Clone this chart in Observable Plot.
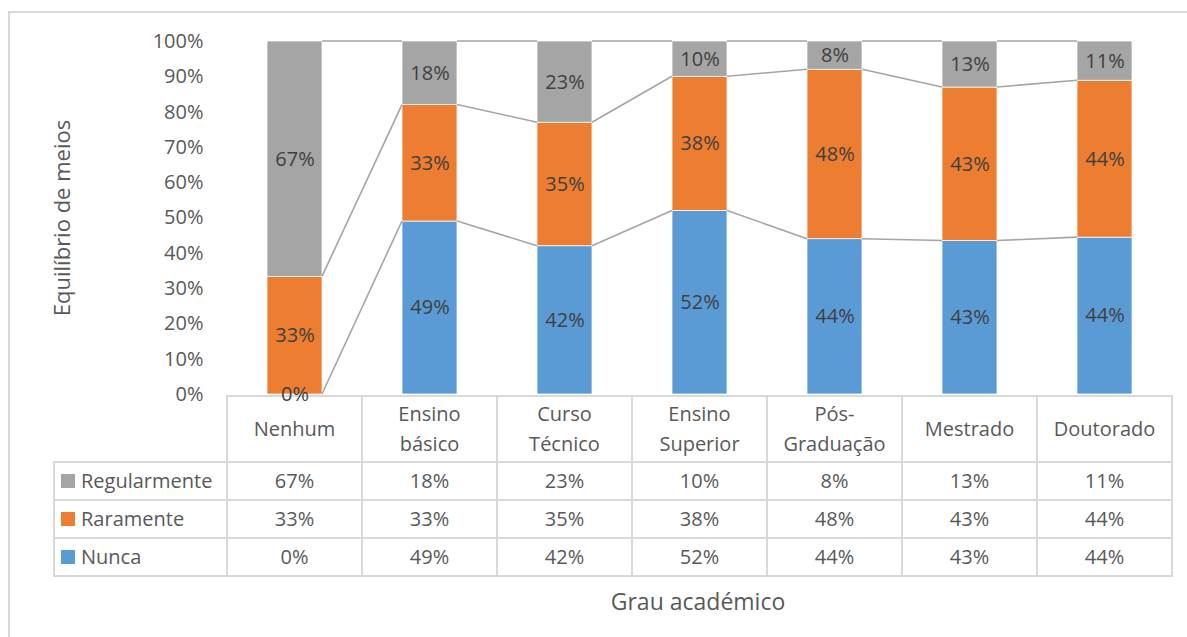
<!DOCTYPE html>
<html>
<head>
<meta charset="utf-8">
<script src="https://cdn.jsdelivr.net/npm/d3@7"></script>
<script src="https://cdn.jsdelivr.net/npm/@observablehq/plot@0.6"></script>
<style>
  body { margin: 0; background: #fff; }
  #wrap { position: relative; width: 1187px; height: 637px; overflow: hidden; font-family: "Open Sans", Lato, sans-serif; color: #595959; background: #fff; }
  #frame { position: absolute; left: 8px; top: 11px; width: 1300px; height: 700px; border: 2px solid #d9d9d9; box-sizing: border-box; }
  #chart { position: absolute; left: 0; top: 0; z-index: 2; }
  #chart svg { overflow: visible; }
  .cell { position: absolute; box-sizing: border-box; border: 2px solid #d9d9d9; display: flex; align-items: center; justify-content: center; text-align: center; font-size: 20px; line-height: 30px; color: #595959; }
  .leg { justify-content: flex-start; padding-left: 6px; }
  .sw { display: inline-block; width: 14px; height: 14px; margin-right: 6px; }
  #ytitle { position: absolute; left: 61px; top: 218px; transform: translate(-50%, -50%) rotate(-90deg); font-size: 22px; white-space: nowrap; }
  #xtitle { position: absolute; left: 698px; top: 601px; transform: translate(-50%, -50%); font-size: 23px; white-space: nowrap; }
</style>
</head>
<body>
<div id="wrap">
  <div id="frame"></div>
  <div id="table"></div>
  <div id="chart"></div>
  <div id="ytitle">Equilíbrio de meios</div>
  <div id="xtitle">Grau académico</div>
</div>
<script>
// ---- data ----
const categories = ["Nenhum", "Ensino básico", "Curso Técnico", "Ensino Superior", "Pós-Graduação", "Mestrado", "Doutorado"];
const categoryLabels = [["Nenhum"], ["Ensino", "básico"], ["Curso", "Técnico"], ["Ensino", "Superior"], ["Pós-", "Graduação"], ["Mestrado"], ["Doutorado"]];
const seriesNames = ["Nunca", "Raramente", "Regularmente"];
const nunca = [0, 49, 42, 52, 44, 43.48, 44.44];
const raramente = [33.33, 33, 35, 38, 48, 43.48, 44.44];
const regularmente = [66.67, 18, 23, 10, 8, 13.04, 11.11];
const seriesColors = ["#5B9BD5", "#ED7D31", "#A5A5A5"];
const yTicks = [0, 10, 20, 30, 40, 50, 60, 70, 80, 90, 100];

const seriesValues = [nunca, raramente, regularmente];
const rows = [];
seriesNames.forEach((s, k) => categories.forEach((c, i) => rows.push({cat: c, series: s, value: seriesValues[k][i]})));
const fmt = v => Math.round(v) + "%";

// cumulative tops for series lines
const cum = seriesValues.map((_, k) => categories.map((c, i) => d3.sum(seriesValues.slice(0, k + 1), a => a[i])));

function seriesLines(index, scales) {
  const x = scales.x, y = scales.y;
  const bw = typeof x.bandwidth === "function" ? x.bandwidth() : 55;
  const g = d3.create("svg:g").attr("stroke", "#A5A5A5").attr("stroke-width", 1.6).attr("fill", "none");
  cum.forEach(level => {
    for (let i = 0; i < categories.length - 1; i++) {
      g.append("line")
        .attr("x1", x(categories[i]) + bw).attr("y1", y(level[i]))
        .attr("x2", x(categories[i + 1])).attr("y2", y(level[i + 1]));
    }
  });
  return g.node();
}

const pInner = 1 - 55 / 135;
const chart = Plot.plot({
  width: 1187,
  height: 400,
  marginTop: 41,
  marginBottom: 6,
  marginLeft: 227,
  marginRight: 15,
  style: {fontFamily: "'Open Sans', Lato, sans-serif", fontSize: "20px", color: "#595959", background: "transparent", overflow: "visible"},
  x: {domain: categories, paddingInner: pInner, paddingOuter: pInner / 2, align: 0.5, axis: null},
  y: {domain: [0, 100], ticks: yTicks, tickFormat: d => d + "%"},
  color: {domain: seriesNames, range: seriesColors},
  marks: [
    Plot.axisY({ticks: yTicks, tickFormat: d => d + "%", tickSize: 0, tickPadding: 24, label: null, fill: "#595959", fontSize: 20}),
    Plot.barY(rows, {x: "cat", y: "value", fill: "series", stroke: "#fff", strokeWidth: 0.75, order: seriesNames, inset: 0}),
    seriesLines,
    Plot.text(rows, Plot.stackY({x: "cat", y: "value", z: "series", order: seriesNames, text: d => fmt(d.value), fill: "#404040", fontSize: 20}))
  ]
});
document.getElementById("chart").appendChild(chart);

// ---- data table below the plot, aligned with x scale ----
const xs = chart.scale("x");
const step = xs.step;
const gap = (step - xs.bandwidth) / 2;
const table = document.getElementById("table");
const headerTop = 396, headerH = 66, rowH = 38;
function cell(left, top, w, h, html, cls) {
  const d = document.createElement("div");
  d.className = "cell" + (cls ? " " + cls : "");
  d.style.left = (left - 1) + "px";
  d.style.top = (top - 1) + "px";
  d.style.width = (w + 2) + "px";
  d.style.height = (h + 2) + "px";
  d.innerHTML = html;
  table.appendChild(d);
}
categories.forEach((c, i) => {
  const left = xs.apply(c) - gap;
  cell(left, headerTop, step, headerH, categoryLabels[i].join("<br>"));
});
const tableOrder = [2, 1, 0];
tableOrder.forEach((k, r) => {
  const top = headerTop + headerH + r * rowH;
  const legLeft = 54;
  const legW = xs.range[0] - legLeft;
  cell(legLeft, top, legW, rowH, `<span class="sw" style="background:${seriesColors[k]}"></span>${seriesNames[k]}`, "leg");
  categories.forEach((c, i) => {
    cell(xs.apply(c) - gap, top, step, rowH, fmt(seriesValues[k][i]));
  });
});
</script>
</body>
</html>
